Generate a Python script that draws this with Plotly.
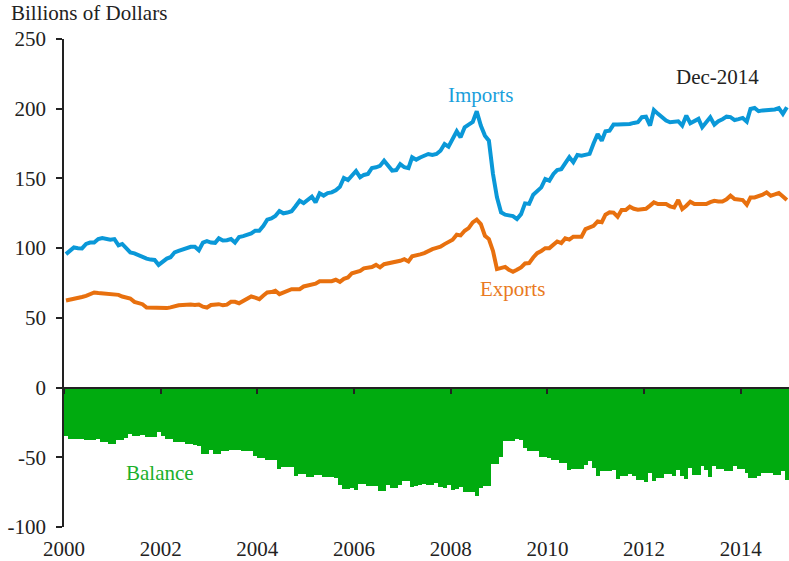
import pandas as pd
import plotly.graph_objects as go

# monthly US goods trade, Jan 2000 - Dec 2014, billions of dollars
months = pd.date_range('2000-01-01', periods=180, freq='MS') + pd.Timedelta(days=15)

imports = [
    95.7, 98, 100.5, 100, 99.8, 103, 104, 104, 106.5, 107.3, 106.5, 106,
    106.5, 102, 103, 99.5, 97, 96.3, 94.8, 93.8, 92.5, 91.8, 91.5, 88,
    90.5, 92.5, 93.5, 97, 98, 99, 99.3, 101, 101, 98.5, 104, 105,
    104, 103.8, 107, 105.5, 105.7, 106.5, 104, 108, 108.6, 109.8, 110.5, 112.5,
    112.5, 116, 120.4, 121.3, 123, 126.6, 125, 125.5, 126.5, 130, 134, 132.3,
    134.5, 136.9, 132.8, 139.3, 137.7, 139.5, 140, 141.5, 144, 150.3, 148.8, 152,
    155.3, 150.8, 152.5, 153.2, 157.5, 158, 159, 162.7, 159, 155.6, 156, 160.3,
    158, 157.3, 165.2, 163.5, 165, 165.9, 167.5, 166.8, 167.5, 169.9, 174.7, 172.8,
    178, 183.8, 179.5, 186.7, 188.6, 190.5, 198.2, 187.9, 180.7, 177.1, 153.2, 136.4,
    125.7, 124, 123.5, 123, 120.9, 124.4, 132.1, 131.7, 138.3, 141, 143.6, 149.6,
    148.4, 153.2, 156, 156.6, 161, 165.2, 161.6, 166.8, 166.3, 166.8, 167.6, 175,
    181.9, 177.1, 183.8, 184.3, 188.6, 188.6, 188.6, 188.8, 189, 189.8, 190.3, 193.9,
    194.3, 187.9, 199.1, 196.3, 194, 191.5, 190.3, 190.5, 191, 187.9, 195.1, 189.6,
    191, 192.7, 186.7, 190.5, 193.9, 188.6, 191, 192.5, 194.3, 194, 191.9, 192.5,
    193.4, 190.7, 199.8, 200.5, 198.2, 198.8, 199, 199, 199.5, 200.5, 196.3, 201,
]

exports = [
    62.5, 63, 63.4, 64.6, 65, 65.8, 67, 68.2, 67.8, 67.5, 67.2, 67,
    66.7, 66.5, 65.3, 64.5, 63.9, 61.5, 60.5, 59.8, 57.4, 57.2, 57, 56.8,
    56.7, 57, 57.5, 58.6, 59, 59.2, 59.6, 59.5, 59.3, 59.6, 58, 57.4,
    59.2, 59.5, 59.8, 59, 59.5, 61.5, 61.5, 60.5, 62.2, 63.5, 65.3, 64.5,
    63.4, 66, 68.2, 68.5, 69.4, 67, 68.3, 69.4, 70.6, 70.6, 70.6, 72.5,
    73, 73.5, 74.5, 76.3, 76.2, 76.1, 76.3, 77.3, 75.8, 78, 79, 82,
    83, 83.7, 85.5, 85.7, 86.5, 88, 86.2, 88.5, 89, 89.8, 90.5, 90.9,
    92.1, 90.5, 94.1, 94.5, 95.5, 96.4, 98.1, 99.3, 100.2, 101, 102.9, 104.5,
    106, 109.6, 109.1, 112.5, 114.4, 118.5, 120.4, 117.3, 108.9, 106.5, 98, 85,
    85.8, 86.6, 84.5, 83, 84.5, 86.2, 89, 89.3, 93.3, 96.4, 98, 100,
    100, 102.9, 104.8, 103.6, 107, 106.1, 108.2, 108.2, 108.2, 113.7, 115, 116,
    119.2, 118.6, 124, 125.7, 125.5, 122.5, 127.3, 127.3, 129.7, 128.2, 127.5, 127.8,
    128.2, 130.5, 132.8, 131.6, 131.6, 131.6, 130, 129.2, 134.5, 128, 130.4, 133.3,
    131.6, 131.6, 131.6, 131.6, 133, 134, 133.5, 133.5, 135, 137.6, 135.2, 134.8,
    134.5, 131.1, 136.4, 136.4, 137, 138.3, 140, 137.6, 138.5, 139.5, 137, 134.5,
]

balance = [
    -34.5, -36.6, -36.6, -36.6, -36.6, -37.8, -37.8, -37.8, -36.6, -39.3, -39.3, -40.5,
    -40.5, -37.3, -37.3, -36, -33.3, -35, -35, -33.8, -35.7, -35.7, -35.7, -31.8,
    -34.5, -36.6, -36.6, -39.3, -39.3, -39.3, -40.5, -40.5, -41, -41.9, -47.4, -47.4,
    -44.5, -47.4, -47.4, -45.2, -45.2, -44.5, -44.5, -44.5, -45.7, -45.7, -45.7, -48.8,
    -50.5, -50.5, -52.2, -52.2, -52.2, -58.4, -57, -57, -57, -63.7, -61.8, -61.8,
    -64.2, -64.2, -62.5, -62.5, -64.2, -64.2, -64.2, -65, -69.7, -72.8, -72.8, -72,
    -73.2, -69.2, -69.2, -70.8, -70.8, -70.8, -74.4, -74.4, -69.7, -72, -72, -69.7,
    -67.3, -67.3, -71.1, -70.5, -69.7, -68.9, -69.7, -69.7, -68.5, -71.3, -72, -69.7,
    -73.2, -73, -71.1, -74.9, -74.9, -74.9, -78, -72, -70.8, -70.8, -54.6, -54.6,
    -50, -38.5, -38.5, -38.5, -36.8, -37.8, -43.3, -45.7, -45.7, -45.7, -49.8, -49.8,
    -50.5, -52.2, -52.2, -54, -54, -59.4, -58.2, -58.2, -58.2, -55.4, -52.9, -57.7,
    -63.2, -60, -60, -60, -58.9, -65.6, -63.7, -63.7, -61.8, -63.2, -66, -66,
    -68, -61.3, -67.3, -65, -65, -61.8, -61.8, -63.2, -58.9, -63.7, -65.6, -57.7,
    -62.5, -62.5, -56.5, -58.9, -64.2, -56, -58.4, -58.4, -60, -60, -56, -58.4,
    -58.4, -61.3, -65, -65, -63.2, -61.3, -61.3, -61.3, -62.5, -62.5, -60, -66,
]

year_ticks = [f'{y}-01-01' for y in range(2000, 2015, 2)]
year_labels = [str(y) for y in range(2000, 2015, 2)]
y_ticks = [-100, -50, 0, 50, 100, 150, 200, 250]
y_labels = ['-100', '-50', '0', '50', '100', '150', '200', '250']

BLUE = '#0a98d8'
ORANGE = '#e8700e'
GREEN = '#00ab0f'
FONT = 'Liberation Serif, Times New Roman, serif'

fig = go.Figure()

fig.add_trace(go.Bar(
    x=months, y=balance, marker_color=GREEN, marker_line_width=0,
    width=31 * 24 * 3600 * 1000, name='Balance',
))
fig.add_trace(go.Scatter(
    x=months, y=imports, mode='lines', line=dict(color=BLUE, width=4), name='Imports',
))
fig.add_trace(go.Scatter(
    x=months, y=exports, mode='lines', line=dict(color=ORANGE, width=4), name='Exports',
))

# invisible trace to carry the tick marks on the zero line
fig.add_trace(go.Scatter(x=[months[0]], y=[0], xaxis='x2', mode='markers',
                         marker=dict(opacity=0), showlegend=False, hoverinfo='skip'))

fig.update_layout(
    width=789, height=561,
    margin=dict(l=64, r=0, t=39, b=34),
    paper_bgcolor='white', plot_bgcolor='white',
    showlegend=False,
    bargap=0,
    font=dict(family=FONT, size=21, color='#222222'),
    title=dict(text='Billions of Dollars', x=11 / 789, xref='container', xanchor='left',
               y=1 - 13 / 561, yref='container', yanchor='middle',
               font=dict(family=FONT, size=21, color='#222222')),
    xaxis=dict(
        range=['2000-01-01', '2015-01-01'], tickvals=year_ticks, ticktext=year_labels,
        showgrid=False, showline=False, zeroline=False,
        ticks='outside', ticklen=3, tickcolor='rgba(0,0,0,0)',
    ),
    xaxis2=dict(
        range=['2000-01-01', '2015-01-01'], tickvals=year_ticks,
        overlaying='x', anchor='free', position=100 / 350, side='bottom',
        showgrid=False, showline=True, linecolor='#222222', linewidth=2,
        ticks='outside', ticklen=5, tickwidth=1.5, tickcolor='#222222',
        showticklabels=False, zeroline=False,
    ),
    yaxis=dict(
        range=[-100, 250], tickvals=y_ticks, ticktext=y_labels,
        showgrid=False, zeroline=False, showline=True, linecolor='#222222', linewidth=1.5,
        ticks='outside', ticklen=6, tickwidth=1.5, tickcolor='#222222',
        ticklabelstandoff=6,
    ),
    annotations=[
        dict(x='2008-08-15', y=210, xref='x', yref='y', text='Imports', showarrow=False,
             font=dict(family=FONT, size=21, color='#1a9fdc')),
        dict(x='2009-04-10', y=70.6, xref='x', yref='y', text='Exports', showarrow=False,
             font=dict(family=FONT, size=21, color='#e97a22')),
        dict(x='2001-12-25', y=-61.5, xref='x', yref='y', text='Balance', showarrow=False,
             font=dict(family=FONT, size=21, color='#1bb02a')),
        dict(x='2013-07-10', y=223, xref='x', yref='y', text='Dec-2014', showarrow=False,
             font=dict(family=FONT, size=21, color='#222222')),
    ],
)

# the page body has a default 8px margin; drop it so the figure sits at the corner
fig.write_html('out.html', config={'displayModeBar': False},
               post_script="document.body.style.margin='0px';")
